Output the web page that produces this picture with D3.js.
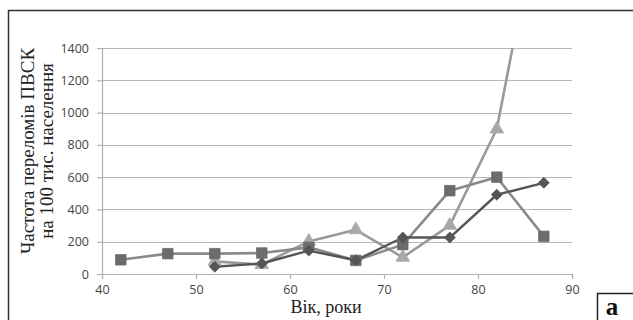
<!DOCTYPE html>
<html>
<head>
<meta charset="utf-8">
<script src="https://cdn.jsdelivr.net/npm/d3@7"></script>
<style>
  body { margin: 0; background: #fff; }
  svg { display: block; }
</style>
</head>
<body>
<div id="chart"></div>
<script>
// age groups (x) and series values
const agesSquare = [42, 47, 52, 57, 62, 67, 72, 77, 82, 87];
const valuesSquare = [88, 126, 126, 130, 165, 84, 182, 516, 600, 233];
const agesDiamond = [52, 57, 62, 67, 72, 77, 82, 87];
const valuesDiamond = [45, 65, 145, 85, 226, 226, 491, 565];
const agesTriangle = [52, 57, 62, 67, 72, 77, 82, 87];
const valuesTriangle = [78, 58, 202, 274, 103, 301, 898, 2400];
const xTicks = [40, 50, 60, 70, 80, 90];
const yTicks = [0, 200, 400, 600, 800, 1000, 1200, 1400];

const W = 633, H = 320;
const margin = { left: 102, right: 61, top: 48, bottom: 46 };
const width = 572 - margin.left;
const height = 274 - margin.top;

const svg = d3.select('#chart').append('svg')
  .attr('width', W)
  .attr('height', H);

// outer frame (top and left edges visible)
svg.append('path')
  .attr('d', `M8.5,${H} V10.5 H${W}`)
  .attr('fill', 'none')
  .attr('stroke', '#333')
  .attr('stroke-width', 1.5);

const x = d3.scaleLinear().domain([40, 90]).range([0, width]);
const y = d3.scaleLinear().domain([0, 1400]).range([height, 0]);

const g = svg.append('g')
  .attr('transform', `translate(${margin.left}, ${margin.top})`);

// horizontal grid
g.selectAll('.grid')
  .data(yTicks.slice(1))
  .enter()
  .append('line')
  .attr('class', 'grid')
  .attr('x1', 0)
  .attr('x2', width)
  .attr('y1', d => Math.round(y(d)) + 0.5)
  .attr('y2', d => Math.round(y(d)) + 0.5)
  .style('stroke', '#b8b8b8')
  .style('stroke-width', 1.2);

// axes
const fmt = d3.format('d');
const xAxis = g.append('g')
  .attr('transform', `translate(0, ${height})`)
  .call(d3.axisBottom(x).tickValues(xTicks).tickFormat(fmt).tickSize(5).tickPadding(6));
const yAxis = g.append('g')
  .call(d3.axisLeft(y).tickValues(yTicks).tickFormat(fmt).tickSize(5).tickPadding(8));

[xAxis, yAxis].forEach(ax => {
  ax.select('.domain').style('stroke', '#b0b0b0').style('stroke-width', 1.2);
  ax.selectAll('.tick line').style('stroke', '#b0b0b0').style('stroke-width', 1.2);
  ax.selectAll('text')
    .style('fill', '#444')
    .style('font-family', '"Open Sans", "Liberation Sans", sans-serif')
    .style('font-size', '12.5px');
});

// clip to plot area
svg.append('clipPath').attr('id', 'plot-clip')
  .append('rect')
  .attr('x', 0).attr('y', 0)
  .attr('width', width + 8).attr('height', height);

const plot = g.append('g').attr('clip-path', 'url(#plot-clip)');

const line = d3.line().x(d => x(d[0])).y(d => y(d[1]));

const series = [
  { ages: agesTriangle, vals: valuesTriangle, stroke: '#9a9a9a', fill: '#a8a8a8', marker: d3.symbolTriangle, size: 80, rot: 0, sw: 2.6 },
  { ages: agesSquare, vals: valuesSquare, stroke: '#8a8a8a', fill: '#6c6c6c', marker: d3.symbolSquare, size: 110, rot: 0, sw: 2.6 },
  { ages: agesDiamond, vals: valuesDiamond, stroke: '#555', fill: '#555', marker: d3.symbolSquare, size: 60, rot: 45, sw: 2.4 }
];

series.forEach(s => {
  const pts = s.ages.map((a, i) => [a, s.vals[i]]);
  plot.append('path')
    .datum(pts)
    .attr('d', line)
    .attr('fill', 'none')
    .attr('stroke', s.stroke)
    .attr('stroke-width', s.sw)
    .attr('stroke-linejoin', 'round');
});

series.forEach(s => {
  const pts = s.ages.map((a, i) => [a, s.vals[i]]).filter(d => d[1] <= 1400);
  plot.selectAll(null)
    .data(pts)
    .enter()
    .append('path')
    .attr('d', d3.symbol().type(s.marker).size(s.size))
    .attr('transform', d => `translate(${x(d[0])}, ${y(d[1])}) rotate(${s.rot})`)
    .attr('fill', s.fill)
    .attr('stroke', s.fill)
    .attr('stroke-width', 0.8);
});

// axis titles
const serif = '"Liberation Serif", "DejaVu Serif", serif';
const yTitle = svg.append('text')
  .attr('transform', 'translate(27, 151) rotate(-90)')
  .attr('text-anchor', 'middle')
  .style('font-family', serif)
  .style('font-size', '19px')
  .style('fill', '#222');
yTitle.append('tspan').attr('x', 0).attr('dy', '0.35em').text('Частота переломів ПВСК');
yTitle.append('tspan').attr('x', 0).attr('dy', '1.0em').text('на 100 тис. населення');

svg.append('text')
  .attr('x', 326)
  .attr('y', 313)
  .attr('text-anchor', 'middle')
  .style('font-family', serif)
  .style('font-size', '18px')
  .style('fill', '#222')
  .text('Вік, роки');

// panel letter box
svg.append('rect')
  .attr('x', 597.5).attr('y', 293.5)
  .attr('width', 50).attr('height', 40)
  .attr('fill', '#fff')
  .attr('stroke', '#222')
  .attr('stroke-width', 1.5);
svg.append('text')
  .attr('x', 612)
  .attr('y', 315)
  .attr('text-anchor', 'middle')
  .style('font-family', serif)
  .style('font-size', '25px')
  .style('font-weight', 'bold')
  .style('fill', '#111')
  .text('a');
</script>
</body>
</html>
